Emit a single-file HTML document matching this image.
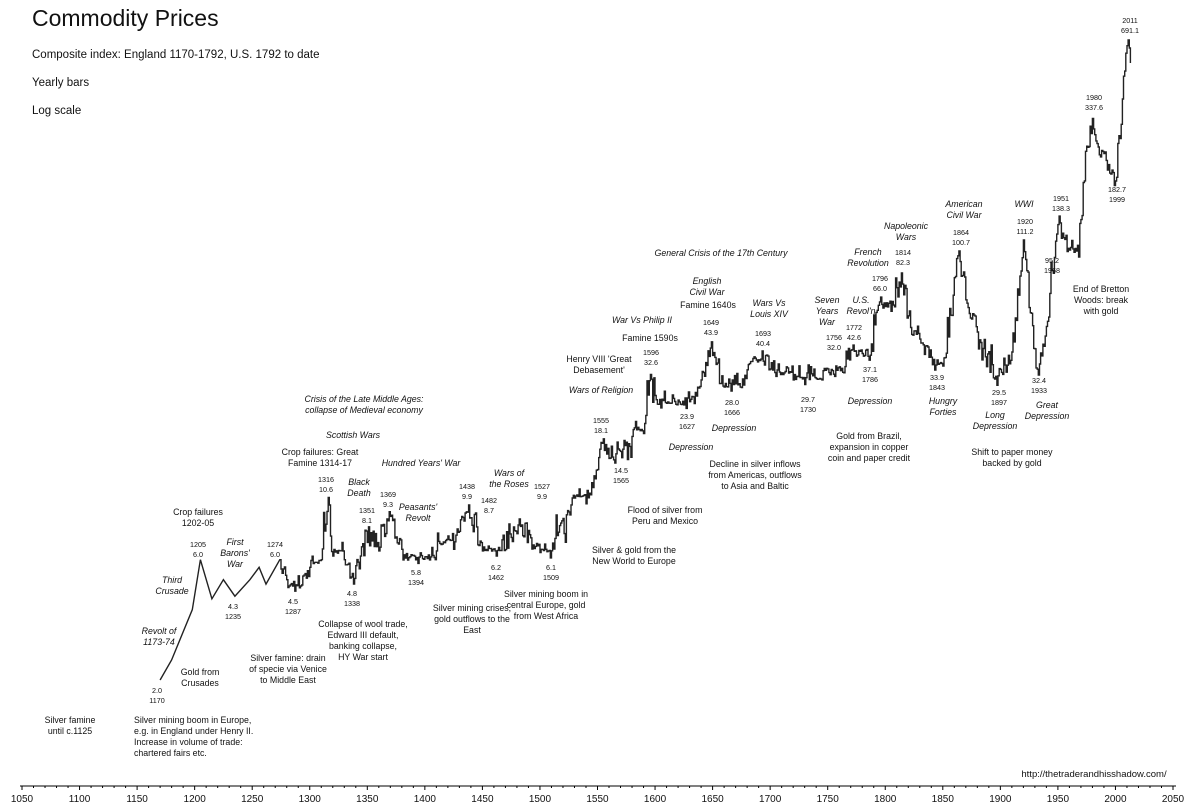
<!DOCTYPE html>
<html><head><meta charset="utf-8"><style>
body{margin:0;background:#fff;width:1194px;height:808px;overflow:hidden;position:relative;font-family:"Liberation Sans",sans-serif;color:#111}
.a{position:absolute;transform:translateX(-50%);text-align:center;font-size:8.8px;line-height:11px;white-space:nowrap}
.i{font-style:italic}
.v{font-size:7.2px;line-height:9.5px}
.l{transform:none;text-align:left}
.t{position:absolute;left:32px;white-space:nowrap}
</style></head><body>
<div class="t" style="top:5px;font-size:23px">Commodity Prices</div>
<div class="t" style="top:49px;font-size:11.5px">Composite index: England 1170-1792, U.S. 1792 to date</div>
<div class="t" style="top:77px;font-size:11.5px">Yearly bars</div>
<div class="t" style="top:105px;font-size:11.5px">Log scale</div>
<svg id="s" width="1194" height="808" style="position:absolute;left:0;top:0">
<line x1="20" y1="786" x2="1176" y2="786" stroke="#000" stroke-width="1"/>
<g id="ticks"></g>
<path id="p" fill="none" stroke="#222" stroke-width="1.4"/>
</svg>
<div class="a" style="left:70px;top:715px">Silver famine<br>until c.1125</div>
<div class="a l" style="left:134px;top:715px">Silver mining boom in Europe,<br>e.g. in England under Henry II.<br>Increase in volume of trade:<br>chartered fairs etc.</div>
<div class="a v" style="left:157px;top:686px">2.0<br>1170</div>
<div class="a" style="left:200px;top:667px">Gold from<br>Crusades</div>
<div class="a i" style="left:159px;top:626px">Revolt of<br>1173-74</div>
<div class="a i" style="left:172px;top:575px">Third<br>Crusade</div>
<div class="a" style="left:198px;top:507px">Crop failures<br>1202-05</div>
<div class="a v" style="left:198px;top:540px">1205<br>6.0</div>
<div class="a i" style="left:235px;top:537px">First<br>Barons'<br>War</div>
<div class="a v" style="left:233px;top:602px">4.3<br>1235</div>
<div class="a v" style="left:275px;top:540px">1274<br>6.0</div>
<div class="a" style="left:288px;top:653px">Silver famine: drain<br>of specie via Venice<br>to Middle East</div>
<div class="a v" style="left:293px;top:597px">4.5<br>1287</div>
<div class="a" style="left:320px;top:447px">Crop failures: Great<br>Famine 1314-17</div>
<div class="a v" style="left:326px;top:475px">1316<br>10.6</div>
<div class="a i" style="left:353px;top:430px">Scottish Wars</div>
<div class="a i" style="left:364px;top:394px">Crisis of the Late Middle Ages:<br>collapse of Medieval economy</div>
<div class="a i" style="left:359px;top:477px">Black<br>Death</div>
<div class="a v" style="left:367px;top:506px">1351<br>8.1</div>
<div class="a v" style="left:388px;top:490px">1369<br>9.3</div>
<div class="a i" style="left:421px;top:458px">Hundred Years' War</div>
<div class="a i" style="left:418px;top:502px">Peasants'<br>Revolt</div>
<div class="a v" style="left:352px;top:589px">4.8<br>1338</div>
<div class="a" style="left:363px;top:619px">Collapse of wool trade,<br>Edward III default,<br>banking collapse,<br>HY War start</div>
<div class="a v" style="left:416px;top:568px">5.8<br>1394</div>
<div class="a v" style="left:467px;top:482px">1438<br>9.9</div>
<div class="a" style="left:472px;top:603px">Silver mining crises,<br>gold outflows to the<br>East</div>
<div class="a i" style="left:509px;top:468px">Wars of<br>the Roses</div>
<div class="a v" style="left:489px;top:496px">1482<br>8.7</div>
<div class="a v" style="left:496px;top:563px">6.2<br>1462</div>
<div class="a v" style="left:551px;top:563px">6.1<br>1509</div>
<div class="a v" style="left:542px;top:482px">1527<br>9.9</div>
<div class="a" style="left:546px;top:589px">Silver mining boom in<br>central Europe, gold<br>from West Africa</div>
<div class="a" style="left:634px;top:545px">Silver &amp; gold from the<br>New World to Europe</div>
<div class="a" style="left:665px;top:505px">Flood of silver from<br>Peru and Mexico</div>
<div class="a v" style="left:601px;top:416px">1555<br>18.1</div>
<div class="a v" style="left:621px;top:466px">14.5<br>1565</div>
<div class="a i" style="left:601px;top:385px">Wars of Religion</div>
<div class="a" style="left:599px;top:354px">Henry VIII 'Great<br>Debasement'</div>
<div class="a v" style="left:651px;top:348px">1596<br>32.6</div>
<div class="a" style="left:650px;top:333px">Famine 1590s</div>
<div class="a i" style="left:642px;top:315px">War Vs Philip II</div>
<div class="a v" style="left:687px;top:412px">23.9<br>1627</div>
<div class="a i" style="left:691px;top:442px">Depression</div>
<div class="a i" style="left:707px;top:276px">English<br>Civil War</div>
<div class="a" style="left:708px;top:300px">Famine 1640s</div>
<div class="a v" style="left:711px;top:318px">1649<br>43.9</div>
<div class="a i" style="left:721px;top:248px">General Crisis of the 17th Century</div>
<div class="a v" style="left:732px;top:398px">28.0<br>1666</div>
<div class="a i" style="left:734px;top:423px">Depression</div>
<div class="a" style="left:755px;top:459px">Decline in silver inflows<br>from Americas, outflows<br>to Asia and Baltic</div>
<div class="a i" style="left:769px;top:298px">Wars Vs<br>Louis XIV</div>
<div class="a v" style="left:763px;top:329px">1693<br>40.4</div>
<div class="a v" style="left:808px;top:395px">29.7<br>1730</div>
<div class="a i" style="left:827px;top:295px">Seven<br>Years<br>War</div>
<div class="a v" style="left:834px;top:333px">1756<br>32.0</div>
<div class="a i" style="left:861px;top:295px">U.S.<br>Revol'n</div>
<div class="a v" style="left:854px;top:323px">1772<br>42.6</div>
<div class="a v" style="left:870px;top:365px">37.1<br>1786</div>
<div class="a i" style="left:868px;top:247px">French<br>Revolution</div>
<div class="a v" style="left:880px;top:274px">1796<br>66.0</div>
<div class="a i" style="left:870px;top:396px">Depression</div>
<div class="a" style="left:869px;top:431px">Gold from Brazil,<br>expansion in copper<br>coin and paper credit</div>
<div class="a i" style="left:906px;top:221px">Napoleonic<br>Wars</div>
<div class="a v" style="left:903px;top:248px">1814<br>82.3</div>
<div class="a v" style="left:937px;top:373px">33.9<br>1843</div>
<div class="a i" style="left:943px;top:396px">Hungry<br>Forties</div>
<div class="a i" style="left:964px;top:199px">American<br>Civil War</div>
<div class="a v" style="left:961px;top:228px">1864<br>100.7</div>
<div class="a v" style="left:999px;top:388px">29.5<br>1897</div>
<div class="a i" style="left:995px;top:410px">Long<br>Depression</div>
<div class="a" style="left:1012px;top:447px">Shift to paper money<br>backed by gold</div>
<div class="a i" style="left:1024px;top:199px">WWI</div>
<div class="a v" style="left:1025px;top:217px">1920<br>111.2</div>
<div class="a v" style="left:1039px;top:376px">32.4<br>1933</div>
<div class="a i" style="left:1047px;top:400px">Great<br>Depression</div>
<div class="a v" style="left:1061px;top:194px">1951<br>138.3</div>
<div class="a v" style="left:1052px;top:256px">95.2<br>1968</div>
<div class="a v" style="left:1094px;top:93px">1980<br>337.6</div>
<div class="a v" style="left:1117px;top:185px">182.7<br>1999</div>
<div class="a" style="left:1101px;top:284px">End of Bretton<br>Woods: break<br>with gold</div>
<div class="a v" style="left:1130px;top:16px">2011<br>691.1</div>
<div class="a" style="left:1094px;top:769px;font-size:9.5px">http://thetraderandhisshadow.com/</div>
<div id="xl"></div>
<script>
var X=function(y){return 22+(y-1050)*1151/1000};
var Y=function(v){return 680-109.5*Math.log(v/2)};
var g=document.getElementById('ticks'),h='',xl='';
for(var yr=1050;yr<=2050;yr+=50){var x=X(yr);h+='<line x1="'+x+'" y1="786" x2="'+x+'" y2="790" stroke="#000"/>';
xl+='<div class="a" style="left:'+x+'px;top:794px;font-size:10px">'+yr+'</div>';
for(var k=1;k<5&&yr<2050;k++){var xx=X(yr+k*10);h+='<line x1="'+xx+'" y1="786" x2="'+xx+'" y2="788" stroke="#000"/>';}}
g.innerHTML=h;document.getElementById('xl').innerHTML=xl;
var K=[[1170,2.0],[1180,2.4],[1190,3.1],[1198,3.8],[1205,6.0],[1215,4.2],[1225,5.0],[1235,4.3],[1248,5.0],[1256,5.6],[1262,4.8],[1274,6.0],[1280,5.0],[1287,4.5],[1300,5.6],[1310,6.0],[1316,10.6],[1320,6.2],[1330,6.0],[1338,4.8],[1351,8.1],[1360,6.5],[1369,9.3],[1380,6.6],[1394,5.8],[1410,6.5],[1425,6.6],[1438,9.9],[1450,6.5],[1462,6.2],[1482,8.7],[1500,6.4],[1509,6.1],[1527,9.9],[1540,10],[1555,18.1],[1565,14.5],[1580,18.5],[1590,19],[1596,32.6],[1605,24],[1615,27],[1627,23.9],[1640,31],[1649,43.9],[1656,30],[1666,28.0],[1680,34],[1693,40.4],[1705,32],[1720,31],[1730,29.7],[1745,31],[1756,32.0],[1765,35],[1772,42.6],[1786,37.1],[1796,66.0],[1805,58],[1814,82.3],[1822,50],[1830,45],[1843,33.9],[1852,38],[1864,100.7],[1872,60],[1880,48],[1897,29.5],[1910,40],[1917,80],[1920,111.2],[1925,60],[1933,32.4],[1942,55],[1948,110],[1951,138.3],[1958,100],[1968,95.2],[1974,250],[1980,337.6],[1985,260],[1992,230],[1999,182.7],[2005,320],[2008,520],[2011,691.1],[2013,560]];
var seed=7;function r(){seed=(seed*16807)%2147483647;return seed/2147483647-0.5;}
var d='';
for(var i=0;i<K.length-1;i++){var a=K[i],b=K[i+1];
 if(a[0]<1270){d+=(d?'L':'M')+X(a[0]).toFixed(1)+' '+Y(a[1]).toFixed(1);continue;}
 var cap=Math.log(Math.max(a[1],b[1]))-0.03, flo=Math.log(Math.min(a[1],b[1]))+0.03;
 for(var y=a[0];y<b[0];y++){var t=(y-a[0])/(b[0]-a[0]);var lv=Math.log(a[1])*(1-t)+Math.log(b[1])*t;
  var n=(y==a[0])?0:r()*0.22;
  var sp=r(); if(y!=a[0]&&sp>0.42) n+=0.2; else if(y!=a[0]&&sp<-0.45) n-=0.14;
  var w=lv+n; if(y!=a[0]){ if(w>cap) w=cap-(w-cap)*0.6; if(w<flo) w=flo+(flo-w)*0.6; }
  var v=Math.exp(w);
  var x0=X(y),x1=X(y+1),yy=Y(v);
  d+=(d?'L':'M')+x0.toFixed(1)+' '+yy.toFixed(1)+'L'+x1.toFixed(1)+' '+yy.toFixed(1);}}
var L=K[K.length-1];d+='L'+X(L[0]).toFixed(1)+' '+Y(L[1]).toFixed(1);
document.getElementById('p').setAttribute('d',d);
</script>
</body></html>
